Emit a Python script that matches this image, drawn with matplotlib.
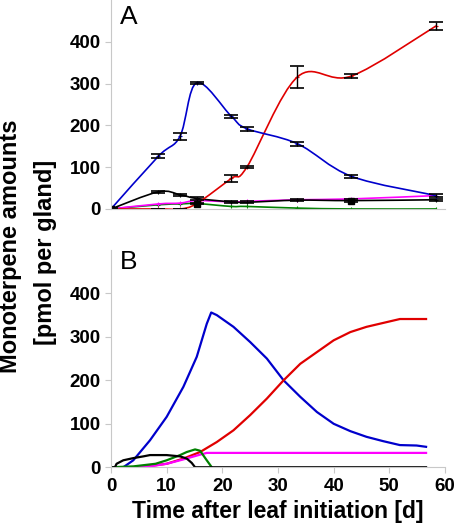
import numpy as np
import matplotlib.pyplot as plt
from matplotlib.path import Path
from matplotlib.patches import PathPatch

plt.rcParams['font.family'] = ['Liberation Sans', 'DejaVu Sans']

# Panel A: measured amounts (pmol per gland)
days_a = [0, 8.5, 12.4, 15.4, 21.6, 24.4, 33.5, 43.2, 58.4]
blue_a = [0, 126, 174, 302, 222, 192, 156, 78, 32]
blue_err = [0, 5, 8, 2, 4, 5, 5, 4, 3]
red_a = [0, 0, 0, 13, 73, 100, 316, 318, 438]
red_err = [0, 0, 0, 2, 8, 2, 27, 5, 10]
black_a = [0, 41, 34, 25, 17, 16, 21, 20, 22]
black_err = [2, 2, 2, 3, 2, 2, 2, 3, 2]
magenta_a = [0, 12, 14, 20, 17, 18, 22, 24, 32]
green_a = [0, 10, 12, 13, 6, 6, 2, 0, 0]

# Panel B: simulated amounts
blue_bd = [0, 2.2, 4, 7, 10, 13, 15.4, 17.2, 18, 19, 22, 25, 28, 31, 34, 37, 40, 43, 45.9, 48.9, 51.9, 54.9, 56.6]
blue_b = [0, 0, 16, 62, 116, 185, 254, 330, 356, 350, 323, 288, 250, 200, 162, 127, 100, 83, 70, 60, 51, 50, 47]
red_bd = [0, 4, 7, 10, 13, 16, 19, 22, 25, 28, 31, 34, 37, 40, 43, 45.9, 48.9, 51.9, 56.6]
red_b = [0, 0, 3, 8, 20, 35, 58, 85, 120, 158, 200, 238, 265, 292, 311, 323, 332, 341, 341]
magenta_bd = [0, 4, 7, 10, 13, 16, 17.2, 56.6]
magenta_b = [0, 0, 2, 8, 18, 29, 33, 33]
green_bd = [0, 4, 8, 10, 12.4, 13.6, 15.1, 16, 17.2, 18.1]
green_b = [0, 2, 8, 16, 28, 35, 41, 38, 16, 0]
black_bd = [0, 0.7, 1, 2.2, 4, 5.8, 7, 10, 12.4, 13.6, 14.5, 15.1, 56.6]
black_b = [0, 0, 8, 16, 21, 25, 28, 28, 25, 20, 10, 0, 0]

GRAY = '#c8c8c8'


def smooth_line(ax, x, y, color, lw=1.2):
    # Excel-like smoothed line: Catmull-Rom segments as cubic Bezier
    x = np.asarray(x, float)
    y = np.asarray(y, float)
    verts = [(x[0], y[0])]
    codes = [Path.MOVETO]
    n = len(x)
    for i in range(n - 1):
        x0, y0 = (x[i - 1], y[i - 1]) if i > 0 else (x[i], y[i])
        x3, y3 = (x[i + 2], y[i + 2]) if i + 2 < n else (x[i + 1], y[i + 1])
        c1 = (x[i] + (x[i + 1] - x0) / 6, y[i] + (y[i + 1] - y0) / 6)
        c2 = (x[i + 1] - (x3 - x[i]) / 6, y[i + 1] - (y3 - y[i]) / 6)
        verts += [c1, c2, (x[i + 1], y[i + 1])]
        codes += [Path.CURVE4] * 3
    ax.add_patch(PathPatch(Path(verts, codes), fill=False, edgecolor=color, lw=lw))


def style(ax):
    for s in ['top', 'right']:
        ax.spines[s].set_visible(False)
    for s in ['left', 'bottom']:
        ax.spines[s].set_color(GRAY)
    ax.tick_params(color=GRAY, length=4, labelsize=13.5)
    ax.set_xlim(0, 60)
    ax.set_ylim(0, 500)
    ax.set_yticks([0, 100, 200, 300, 400])
    for t in ax.get_xticklabels() + ax.get_yticklabels():
        t.set_fontweight('bold')


fig = plt.figure(figsize=(4.55, 5.25), dpi=100)
ax1 = fig.add_axes([0.244, 0.602, 0.734, 0.398])
ax2 = fig.add_axes([0.244, 0.110, 0.734, 0.414])

# Panel A
series_a = [(green_a, None, '#008000'), (magenta_a, None, '#ff00ff'),
            (black_a, black_err, 'black'), (red_a, red_err, '#e00000'),
            (blue_a, blue_err, '#0000cc')]
for vals, err, col in series_a:
    smooth_line(ax1, days_a, vals, col)
    ax1.plot(days_a, vals, ls='none', marker='+', ms=3, color=col, mew=0.8)
    if err is not None:
        ax1.errorbar(days_a, vals, yerr=err, fmt='none', ecolor='black',
                     elinewidth=1, capsize=5, capthick=1.2)
ax1.plot([0, 15.4, 43.2], [0, 13, 20], ls='none', marker='s', ms=4, color='black')
style(ax1)
ax1.set_xticks([])
ax1.text(0.028, 0.975, 'A', transform=ax1.transAxes, fontsize=19, va='top')

# Panel B
ax2.plot(blue_bd, blue_b, color='#0000cc', lw=1.6)
ax2.plot(red_bd, red_b, color='#e00000', lw=1.6)
ax2.plot(magenta_bd, magenta_b, color='#ff00ff', lw=1.6)
ax2.plot(green_bd, green_b, color='#008000', lw=1.6)
ax2.plot(black_bd, black_b, color='black', lw=1.6)
ax2.set_xticks([0, 10, 20, 30, 40, 50, 60])
style(ax2)
ax2.text(0.028, 1.0, 'B', transform=ax2.transAxes, fontsize=19, va='top')
ax2.set_xlabel('Time after leaf initiation [d]', fontsize=16.5, fontweight='bold', labelpad=4)

fig.text(0.024, 0.531, 'Monoterpene amounts', rotation=90,
         ha='center', va='center', fontsize=17, fontweight='bold')
fig.text(0.101, 0.519, '[pmol per gland]', rotation=90,
         ha='center', va='center', fontsize=17, fontweight='bold')

fig.savefig('out.png', dpi=100)
